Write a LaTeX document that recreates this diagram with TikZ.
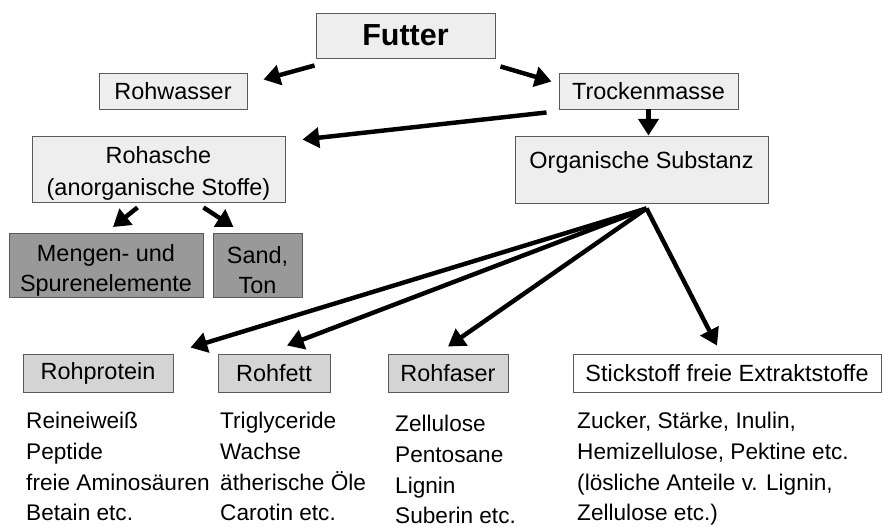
\documentclass[tikz,border=0pt]{standalone}
\usepackage{fontspec}
\setmainfont{Liberation Sans}
\usepackage{tikz}
\usetikzlibrary{positioning,arrows.meta}
\usepackage{xcolor}
\definecolor{boxline}{HTML}{5A5A5A}
\definecolor{boxfill}{HTML}{EEEEEE}
\definecolor{darkfill}{HTML}{999999}
\definecolor{midfill}{HTML}{D4D4D4}

\tikzset{
  box/.style={draw=boxline,line width=0.8pt,fill=boxfill,inner sep=0pt,align=center,
    font=\fontsize{20}{28}\selectfont},
  darkbox/.style={box,fill=darkfill,font=\fontsize{20}{25.5}\selectfont},
  midbox/.style={box,fill=midfill},
  listtext/.style={anchor=north west,align=left,inner sep=0pt,
    font=\fontsize{19.3}{26.4}\selectfont},
  arr/.style={-{Triangle[length=0.5cm,width=0.6cm]},line width=3.8pt}
}

\begin{document}
\begin{tikzpicture}[x=0.03cm,y=-0.03cm]
\useasboundingbox (0,0) rectangle (882,527);

% top
\node[box,minimum width=5.37cm,minimum height=1.35cm,font=\fontsize{26}{30}\bfseries] (futter) at (405.5,35.5) {Futter};
\node[box,minimum width=4.44cm,minimum height=1.08cm] (rohwasser) at (173,91) {Rohwasser};
\node[box,minimum width=5.37cm,minimum height=1.08cm] (trocken) at (648.5,91) {Trockenmasse};

% second level
\node[box,minimum width=7.59cm,minimum height=1.98cm] (rohasche) at (158.5,169) {\rule{0pt}{22pt}Rohasche\\(anorganische Stoffe)};
\node[box,minimum width=7.59cm,minimum height=2.01cm] (organisch) at (641.5,169.5) {\rule{0pt}{26pt}Organische Substanz\\\mbox{}};
\node[darkbox,minimum width=5.82cm,minimum height=1.92cm] (mengen) at (106,265.5) {\rule{0pt}{23pt}Mengen- und\\Spurenelemente};
\node[darkbox,minimum width=2.67cm,minimum height=1.92cm] (sand) at (257.5,265.5) {\rule{0pt}{23pt}Sand,\\Ton};

% Weender analysis
\node[midbox,minimum width=4.5cm,minimum height=1.14cm] (rohprotein) at (98,373) {Rohprotein};
\node[midbox,minimum width=3.36cm,minimum height=1.14cm] (rohfett) at (274,373) {Rohfett};
\node[midbox,minimum width=3.6cm,minimum height=1.14cm] (rohfaser) at (448,373) {Rohfaser};
\node[box,fill=white,minimum width=9.24cm,minimum height=1.14cm] (stickstoff) at (727,373) {Stickstoff freie Extraktstoffe};

% lists
\node[listtext] (listprotein) at (26,406.3) {\strut Reineiweiß\\Peptide\\freie Aminosäuren\\Betain etc.};
\node[listtext] (listfett) at (220,406.3) {\strut Triglyceride\\Wachse\\ätherische Öle\\Carotin etc.};
\node[listtext] (listfaser) at (395,409.3) {\strut Zellulose\\Pentosane\\Lignin\\Suberin etc.};
\node[listtext] (listnfe) at (577,406.3) {\strut Zucker, Stärke, Inulin,\\Hemizellulose, Pektine etc.\\(lösliche Anteile v. Lignin,\\Zellulose etc.)};

% arrows
\draw[arr] ([shift={(-1,7)}]futter.south west) -- ([shift={(16,7)}]rohwasser.north east);
\draw[arr] ([shift={(5,8)}]futter.south east) -- ([shift={(-7,9)}]trocken.north west);
\draw[arr] ([shift={(-12,3)}]trocken.south west) -- ([shift={(17,4)}]rohasche.north east);
\draw[arr] (trocken.south) -- (trocken.south |- organisch.north);
\draw[arr] ([shift={(-21,5)}]rohasche.south) -- ([shift={(7,-6)}]mengen.north);
\draw[arr] ([shift={(45,5)}]rohasche.south) -- ([shift={(-24,-6)}]sand.north);

\coordinate (fan) at ([shift={(5,5)}]organisch.south);
\draw[arr] (fan) -- ([shift={(17,-6)}]rohprotein.north east);
\draw[arr] (fan) -- ([shift={(13,-8)}]rohfett.north);
\draw[arr] (fan) -- ([shift={(0,-7)}]rohfaser.north);
\draw[arr] (fan) -- ([shift={(-10,-8)}]stickstoff.north);
\end{tikzpicture}
\end{document}
